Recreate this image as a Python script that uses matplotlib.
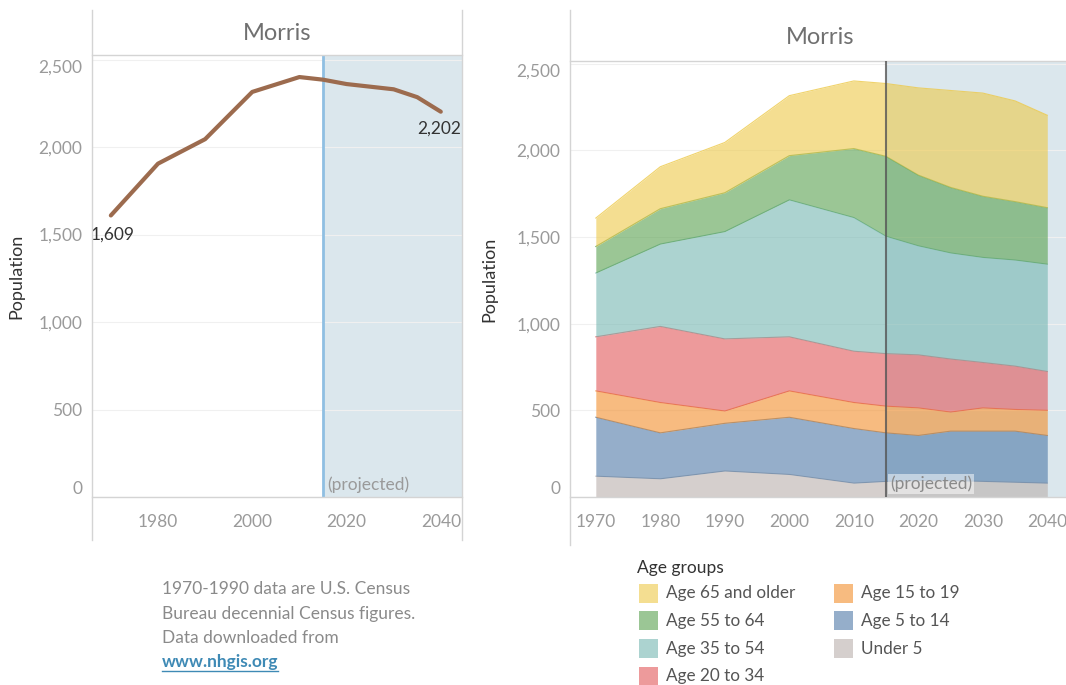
import matplotlib
matplotlib.use("Agg")
import matplotlib.pyplot as plt
import numpy as np
from matplotlib.lines import Line2D
from matplotlib.patches import Rectangle
import matplotlib.transforms as mtransforms

plt.rcParams['font.family'] = ['Lato', 'DejaVu Sans']

# data
years = [1970, 1980, 1990, 2000, 2010, 2015, 2020, 2025, 2030, 2035, 2040]
under5 = [120, 105, 150, 130, 80, 90, 95, 95, 90, 85, 80]
age5_14 = [340, 265, 275, 330, 315, 280, 260, 285, 290, 295, 275]
age15_19 = [152, 175, 71, 152, 150, 154, 159, 110, 134, 125, 145]
age20_34 = [312, 439, 416, 312, 296, 303, 306, 306, 262, 250, 224]
age35_54 = [368, 475, 619, 790, 771, 677, 629, 612, 606, 612, 619]
age55_64 = [153, 204, 224, 255, 398, 461, 408, 378, 353, 337, 326]
age65 = [164, 242, 290, 346, 390, 420, 503, 559, 595, 581, 533]

groups = ["Under 5", "Age 5 to 14", "Age 15 to 19", "Age 20 to 34",
          "Age 35 to 54", "Age 55 to 64", "Age 65 and older"]
series = [under5, age5_14, age15_19, age20_34, age35_54, age55_64, age65]
colors = ["#bab0ac", "#4e79a7", "#f28e2b", "#e15759", "#76b7b2", "#59a14f", "#edc948"]
total = np.sum(series, axis=0)
proj_year = 2015

W, H = 1066, 685
fig = plt.figure(figsize=(W / 100, H / 100), dpi=100)

def fx(p):
    return p / W

def fy(p):
    return 1 - p / H

frame_c = "#d4d4d4"
tick_c = "#9a9a9a"
band_c = "#dbe7ed"

def style(ax, ymax, xmin, xmax):
    ax.set_ylim(0, ymax)
    ax.set_xlim(xmin, xmax)
    for s in ["left", "right"]:
        ax.spines[s].set_visible(False)
    for s in ["top", "bottom"]:
        ax.spines[s].set_color(frame_c)
        ax.spines[s].set_linewidth(1)
    ax.set_yticks([0, 500, 1000, 1500, 2000, 2500])
    ax.set_yticklabels(["0", "500", "1,000", "1,500", "2,000", "2,500"])
    ax.tick_params(length=0, colors=tick_c, labelsize=12.5)
    ax.tick_params(axis="x", pad=12)
    ax.tick_params(axis="y", pad=7)
    ax.grid(axis="y", color="#f0f0f0", linewidth=0.8)
    ax.set_axisbelow(True)
    lbls = ax.get_yticklabels()
    lbls[0].set_va("bottom")
    lbls[-1].set_va("top")
    ax.set_ylabel("Population", fontsize=13, color="#333333")

# ---- left: total line ----
ax1 = fig.add_axes([fx(92), fy(497), fx(462) - fx(92), fy(55) - fy(497)])
style(ax1, 2526, 1966.0, 2044.5)
ax1.axvspan(proj_year, 2044.5, color=band_c, zorder=0, lw=0)
ax1.axvline(proj_year, color="#8fbfe2", lw=2, zorder=1)
ax1.plot(years, total, color="#9c6b4e", lw=3, zorder=3, solid_capstyle="round")
ax1.set_xticks([1980, 2000, 2020, 2040])
ax1.yaxis.set_label_coords((24 - 92) / 370, 0.5)
ax1.annotate(f"{total[0]:,}", (years[0], total[0]), xytext=(1.5, -14),
             textcoords="offset points", ha="center", va="center",
             fontsize=12.5, color="#333333")
ax1.annotate(f"{total[-1]:,}", (years[-1], total[-1]), xytext=(-1.5, -12),
             textcoords="offset points", ha="center", va="center",
             fontsize=12.5, color="#333333")
tr1 = mtransforms.blended_transform_factory(ax1.transData, ax1.transAxes)
ax1.text(proj_year + 1.0, 0.027, "(projected)", transform=tr1, fontsize=12.5,
         color=tick_c, va="center", ha="left")

# ---- right: stacked area ----
ax2 = fig.add_axes([fx(570), fy(497), fx(1066) - fx(570), fy(61) - fy(497)])
style(ax2, 2515, 1966.0, 2042.9)
ax2.axvspan(proj_year, 2042.9, color=band_c, zorder=0, lw=0)
bottom = np.zeros(len(years))
for vals, c in zip(series, colors):
    top = bottom + np.array(vals)
    ax2.fill_between(years, bottom, top, color=c, alpha=0.6, lw=0, zorder=2)
    ax2.plot(years, top, color=c, lw=0.8, alpha=0.8, zorder=2)
    bottom = top
ax2.axvline(proj_year, color="#555555", lw=1.5, alpha=0.8, zorder=3)
ax2.set_xticks(list(range(1970, 2041, 10)))
ax2.yaxis.set_label_coords((497 - 570) / 496, 0.5)
tr2 = mtransforms.blended_transform_factory(ax2.transData, ax2.transAxes)
ax2.text(proj_year + 0.6, 0.03, "(projected)", transform=tr2, fontsize=12.5,
         color="#8a8a8a", va="center", ha="left", zorder=4,
         bbox=dict(boxstyle="square,pad=0.12", fc="white", ec="none", alpha=0.5))

# pane frames and headers
for x, y0, y1 in [(92, 10, 540), (462, 10, 540), (570, 10, 545)]:
    fig.add_artist(Line2D([fx(x), fx(x)], [fy(y0), fy(y1)], color=frame_c, lw=1))
fig.text(fx(277), fy(34), "Morris", fontsize=17, color="#707070", ha="center", va="center")
fig.text(fx(820), fy(37), "Morris", fontsize=17, color="#707070", ha="center", va="center")

# footnote
notes = ["1970-1990 data are U.S. Census", "Bureau decennial Census figures.",
         "Data downloaded from"]
for i, t in enumerate(notes):
    fig.text(fx(162), fy(589 + i * 24.5), t, fontsize=12.5, color="#8a8a8a", va="center")
fig.text(fx(162), fy(662), "www.nhgis.org", fontsize=12.5, color="#3f8ab5",
         fontweight="bold", va="center")
fig.add_artist(Line2D([fx(162), fx(278)], [fy(671), fy(671)], color="#3f8ab5", lw=1))

# legend
fig.text(fx(637), fy(568), "Age groups", fontsize=12.5, color="#333333", va="center")
order = [6, 5, 4, 3, 2, 1, 0]
for k, idx in enumerate(order):
    col, row = divmod(k, 4)
    sx = 639 + col * 195
    sy = 593 + row * 27.8
    fig.add_artist(Rectangle((fx(sx), fy(sy + 9.5)), fx(19), 19 / H,
                             transform=fig.transFigure, color=colors[idx], alpha=0.6, lw=0))
    fig.text(fx(sx + 27), fy(sy), groups[idx], fontsize=12.3, color="#555555", va="center")

fig.savefig("out.png", dpi=100)
